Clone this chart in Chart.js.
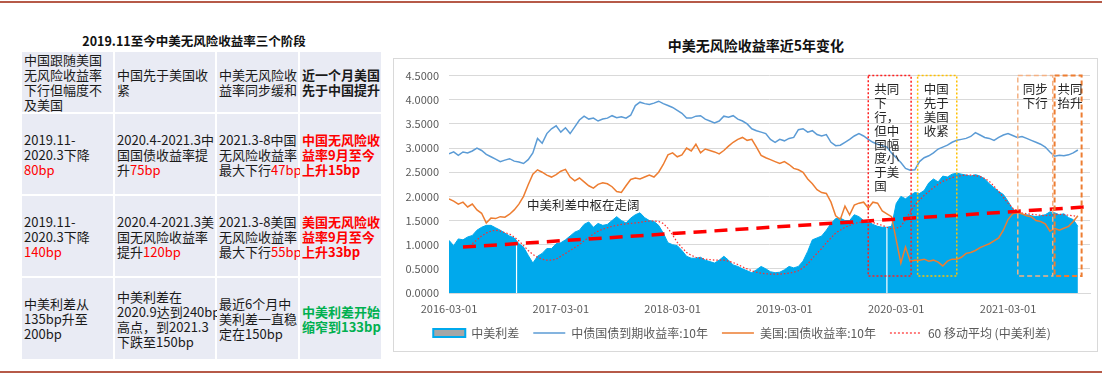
<!DOCTYPE html>
<html lang="zh-CN">
<head>
<meta charset="utf-8">
<title>中美无风险收益率近5年变化</title>
<script src="https://cdn.jsdelivr.net/npm/chart.js@4.4.1/dist/chart.umd.min.js"></script>
<style>
  html, body { margin: 0; padding: 0; background: #fff; }
  body { width: 1102px; height: 381px; position: relative; overflow: hidden;
         font-family: "Noto Sans CJK SC", "Noto Sans", sans-serif; }
  .rule { position: absolute; left: 0; width: 1102px; height: 2px; background: #b65a48; }
  .tbl-title { position: absolute; left: 22px; top: 33px; width: 344px; text-align: center;
               font-weight: bold; font-size: 12.5px; line-height: 16px; color: #111; }
  .tbl { position: absolute; left: 22px; top: 52px; display: grid;
         grid-template-columns: 91px 100px 81px 81px;
         grid-template-rows: 60px 80px 80px 81px; gap: 2px; }
  .tbl > div { background: #e9ebf4; display: flex; align-items: center; padding-left: 2px;
               font-size: 13px; line-height: 15px; color: #1a1a1a; white-space: nowrap; }
  .red { color: #ff0000; }
  .b { font-weight: bold; }
  .green { color: #00b050; font-weight: bold; }
  .chart-title { position: absolute; left: 606px; top: 36px; width: 300px; text-align: center;
                 font-weight: bold; font-size: 14px; line-height: 18px; color: #111; }
  .chart-box { position: absolute; left: 393px; top: 58px; width: 705px; height: 294px;
               border: 1px solid #d9d9d9; box-sizing: border-box; }
</style>
</head>
<body>
<div class="rule" style="top:1px"></div>

<div class="tbl-title">2019.11至今中美无风险收益率三个阶段</div>
<div class="tbl">
  <div><span>中国跟随美国<br>无风险收益率<br>下行但幅度不<br>及美国</span></div>
  <div><span>中国先于美国收<br>紧</span></div>
  <div><span>中美无风险收<br>益率同步缓和</span></div>
  <div><span class="b">近一个月美国<br>先于中国提升</span></div>

  <div><span>2019.11-<br>2020.3下降<br><span class="red">80bp</span></span></div>
  <div><span>2020.4-2021.3中<br>国国债收益率提<br>升<span class="red">75bp</span></span></div>
  <div><span>2021.3-8中国<br>无风险收益率<br>最大下行<span class="red">47bp</span></span></div>
  <div><span class="red b">中国无风险收<br>益率9月至今<br>上升15bp</span></div>

  <div><span>2019.11-<br>2020.3下降<br><span class="red">140bp</span></span></div>
  <div><span>2020.4-2021.3美<br>国无风险收益率<br>提升<span class="red">120bp</span></span></div>
  <div><span>2021.3-8美国<br>无风险收益率<br>最大下行<span class="red">55bp</span></span></div>
  <div><span class="red b">美国无风险收<br>益率9月至今<br>上升33bp</span></div>

  <div><span>中美利差从<br>135bp升至<br>200bp</span></div>
  <div><span>中美利差在<br>2020.9达到240bp<br>高点，到2021.3<br>下跌至150bp</span></div>
  <div><span>最近6个月中<br>美利差一直稳<br>定在150bp</span></div>
  <div><span class="green">中美利差开始<br>缩窄到133bp</span></div>
</div>

<div class="chart-title">中美无风险收益率近5年变化</div>
<div class="chart-box"><canvas id="yieldChart"></canvas></div>

<div class="rule" style="top:371px"></div>

<script>
// 横轴：自 2016-03-01 起的月数，数据每半个月取一个点
const xTickLabels = ['2016-03-01', '2017-03-01', '2018-03-01', '2019-03-01', '2020-03-01', '2021-03-01'];

// 中美利差（面积）
const spread = [
  1.09, 0.98, 1.12, 1.10, 1.16, 1.19, 1.30, 1.36, 1.40, 1.40,
  1.35, 1.30, 1.24, 1.18, 1.14, 1.02, 0.95, 0.78, 0.62, 0.76,
  0.82, 0.92, 0.92, 1.02, 1.04, 1.10, 1.18, 1.26, 1.30, 1.42,
  1.47, 1.36, 1.44, 1.40, 1.42, 1.50, 1.58, 1.50, 1.45, 1.55,
  1.62, 1.66, 1.56, 1.50, 1.48, 1.40, 1.24, 1.04, 1.00, 0.98,
  0.88, 0.76, 0.72, 0.72, 0.74, 0.68, 0.65, 0.62, 0.68, 0.76,
  0.68, 0.58, 0.55, 0.50, 0.46, 0.42, 0.48, 0.55, 0.50, 0.44,
  0.42, 0.43, 0.48, 0.55, 0.52, 0.55, 0.66, 0.86, 1.10, 1.14,
  1.18, 1.30, 1.44, 1.54, 1.55, 1.50, 1.50, 1.62, 1.58, 1.50,
  1.48, 1.42, 1.38, 1.36, 1.36, 1.38, 1.85, 2.00, 1.95, 2.02,
  2.08, 2.06, 2.12, 2.28, 2.36, 2.30, 2.42, 2.40, 2.46, 2.48,
  2.46, 2.44, 2.42, 2.45, 2.42, 2.36, 2.26, 2.18, 2.10, 2.04,
  1.90, 1.74, 1.66, 1.63, 1.62, 1.60, 1.58, 1.60, 1.62, 1.68,
  1.66, 1.62, 1.64, 1.56, 1.52, 1.38
];

// 中债国债到期收益率:10年
const cnYield = [
  2.88, 2.92, 2.85, 2.92, 2.90, 2.94, 3.00, 2.95, 2.87, 2.82,
  2.77, 2.72, 2.75, 2.78, 2.73, 2.71, 2.68, 2.76, 2.90, 3.20,
  3.10, 3.30, 3.40, 3.46, 3.33, 3.42, 3.30, 3.44, 3.58, 3.66,
  3.60, 3.62, 3.56, 3.60, 3.62, 3.67, 3.63, 3.65, 3.62, 3.68,
  3.88, 3.95, 3.92, 3.90, 3.93, 3.97, 3.92, 3.88, 3.84, 3.78,
  3.72, 3.62, 3.62, 3.66, 3.67, 3.60, 3.56, 3.52, 3.56, 3.66,
  3.64, 3.67, 3.60, 3.56, 3.50, 3.40, 3.36, 3.33, 3.30, 3.18,
  3.12, 3.18, 3.15, 3.20, 3.22, 3.38, 3.40, 3.33, 3.36, 3.28,
  3.25, 3.28, 3.12, 3.05, 3.06, 3.12, 3.18, 3.25, 3.30, 3.25,
  3.18, 3.12, 3.08, 3.05, 3.02, 2.90, 2.80, 2.70, 2.58, 2.54,
  2.55, 2.72, 2.80, 2.84, 2.90, 2.98, 3.02, 3.06, 3.12, 3.16,
  3.18, 3.20, 3.24, 3.32, 3.27, 3.22, 3.20, 3.16, 3.22, 3.27,
  3.30, 3.26, 3.22, 3.24, 3.20, 3.16, 3.12, 3.08, 3.02, 2.92,
  2.83, 2.85, 2.84, 2.86, 2.90, 2.96
];

// 美国:国债收益率:10年
const usYield = [
  1.95, 1.90, 1.84, 1.88, 1.78, 1.84, 1.72, 1.65, 1.45, 1.55,
  1.54, 1.58, 1.57, 1.63, 1.72, 1.84, 2.00, 2.24, 2.46, 2.55,
  2.50, 2.44, 2.40, 2.45, 2.52, 2.56, 2.40, 2.32, 2.38, 2.30,
  2.22, 2.17, 2.25, 2.28, 2.26, 2.20, 2.10, 2.08, 2.22, 2.35,
  2.38, 2.36, 2.40, 2.44, 2.40, 2.50, 2.66, 2.86, 2.90, 2.82,
  2.86, 3.00, 2.94, 3.08, 2.90, 2.98, 2.95, 2.92, 2.88, 2.95,
  3.04, 3.12, 3.18, 3.22, 3.16, 3.18, 3.02, 2.85, 2.80, 2.76,
  2.72, 2.68, 2.72, 2.66, 2.58, 2.55, 2.50, 2.36, 2.26, 2.14,
  2.08, 2.06, 1.88, 1.60, 1.52, 1.80, 1.62, 1.82, 1.86, 1.88,
  1.76, 1.88, 1.86, 1.70, 1.64, 1.58, 1.10, 0.62, 0.95, 0.66,
  0.68, 0.68, 0.70, 0.66, 0.68, 0.64, 0.56, 0.66, 0.70, 0.70,
  0.74, 0.82, 0.84, 0.88, 0.94, 0.98, 1.02, 1.08, 1.14, 1.30,
  1.52, 1.64, 1.66, 1.64, 1.60, 1.58, 1.50, 1.48, 1.43, 1.28,
  1.34, 1.30, 1.34, 1.38, 1.48, 1.60
];

// 60 移动平均 (中美利差)，前几期不足 60 日
const spreadMA60 = [
  null, null, null, null, null, 1.02, 1.10, 1.18, 1.24, 1.28,
  1.30, 1.28, 1.25, 1.22, 1.16, 1.08, 0.98, 0.88, 0.80, 0.74,
  0.70, 0.68, 0.68, 0.70, 0.76, 0.82, 0.88, 0.94, 1.00, 1.08,
  1.15, 1.22, 1.28, 1.32, 1.35, 1.38, 1.40, 1.42, 1.43, 1.44,
  1.45, 1.46, 1.48, 1.49, 1.49, 1.48, 1.44, 1.34, 1.20, 1.05,
  0.94, 0.84, 0.78, 0.74, 0.72, 0.70, 0.69, 0.68, 0.68, 0.68,
  0.66, 0.63, 0.59, 0.54, 0.50, 0.46, 0.43, 0.41, 0.40, 0.39,
  0.39, 0.39, 0.40, 0.41, 0.43, 0.46, 0.52, 0.60, 0.72, 0.82,
  0.92, 1.04, 1.14, 1.24, 1.30, 1.36, 1.40, 1.44, 1.46, 1.47,
  1.47, 1.46, 1.43, 1.40, 1.36, 1.33, 1.34, 1.38, 1.52, 1.68,
  1.82, 1.92, 2.02, 2.10, 2.18, 2.25, 2.31, 2.35, 2.39, 2.41,
  2.43, 2.44, 2.44, 2.43, 2.41, 2.37, 2.31, 2.21, 2.10, 1.98,
  1.86, 1.76, 1.69, 1.66, 1.64, 1.63, 1.62, 1.61, 1.60, 1.61,
  1.62, 1.63, 1.62, 1.61, 1.60, 1.58
];

// 利差中枢趋势线（两端点）
const trendMonths = [1.5, 68.2];
const trendValues = [0.95, 1.78];

// 利差序列中缺值的日期（节假日），画成白色细缝
const spreadGapMonths = [7.25, 47.0];

// 阶段标注框：起止月数与框内文字
const phaseBoxBottom = 0.35;
const phaseBoxes = [
  { from: 45.0, to: 49.6, lines: ['共同', '下', '行，', '但中', '国幅', '度小', '于美', '国'], color: '#ff2020', dash: [2, 2], width: 1.5, pad: 6 },
  { from: 50.3, to: 54.5, lines: ['中国', '先于', '美国', '收紧'], color: '#ffc000', dash: [2, 2], width: 1.5, pad: 6 },
  { from: 61.05, to: 64.8, lines: ['同步', '下行'], color: '#f4b183', dash: [5, 3], width: 1.5, pad: 5 },
  { from: 65.0, to: 67.9, lines: ['共同', '抬升'], color: '#ed7d31', dash: [5, 3], width: 2, pad: 3 }
];

const months = spread.map((_, i) => i / 2);

function toPoints(values) {
  return values
    .map((v, i) => ({ x: months[i], y: v }))
    .filter(p => p.y !== null);
}

Chart.defaults.font.family = '"Noto Sans CJK SC", "Noto Sans", sans-serif';

// 利差缺值处的白色细缝
const gapLines = {
  id: 'gapLines',
  afterDatasetDraw(chart, args) {
    if (args.index !== 0) return;
    const { ctx, scales: { x, y } } = chart;
    ctx.save();
    ctx.strokeStyle = '#ffffff';
    ctx.lineWidth = 1.2;
    spreadGapMonths.forEach(m => {
      const px = x.getPixelForValue(m);
      ctx.beginPath();
      ctx.moveTo(px, y.getPixelForValue(0));
      ctx.lineTo(px, y.getPixelForValue(spread[Math.round(m * 2)]));
      ctx.stroke();
    });
    ctx.restore();
  }
};

// 阶段框与文字说明
const phaseNotes = {
  id: 'phaseNotes',
  afterDatasetsDraw(chart) {
    const { ctx, scales: { x, y } } = chart;
    ctx.save();
    phaseBoxes.forEach(b => {
      const l = x.getPixelForValue(b.from);
      const r = x.getPixelForValue(b.to);
      const t = y.getPixelForValue(y.max);
      const btm = y.getPixelForValue(phaseBoxBottom);
      ctx.setLineDash(b.dash);
      ctx.lineWidth = b.width;
      ctx.strokeStyle = b.color;
      ctx.strokeRect(l, t, r - l, btm - t);
      ctx.setLineDash([]);
      ctx.fillStyle = '#262626';
      ctx.font = '12.5px "Noto Sans CJK SC"';
      ctx.textAlign = 'left';
      ctx.textBaseline = 'middle';
      b.lines.forEach((s, k) => ctx.fillText(s, l + b.pad, t + 14 + k * 13.8));
    });
    ctx.fillStyle = '#262626';
    ctx.font = '12.5px "Noto Sans CJK SC"';
    ctx.textAlign = 'center';
    ctx.textBaseline = 'middle';
    ctx.fillText('中美利差中枢在走阔', x.getPixelForValue(14.4), y.getPixelForValue(1.82));
    ctx.restore();
  }
};

const legendOrder = [0, 1, 2, 3];

new Chart(document.getElementById('yieldChart'), {
  type: 'line',
  data: {
    datasets: [
      {
        label: '中美利差',
        data: toPoints(spread),
        fill: 'origin',
        backgroundColor: '#00a9ec',
        borderColor: '#00a9ec',
        borderWidth: 1,
        pointRadius: 0,
        order: 5,
        swatch: { pointStyle: 'rect', fillStyle: '#a6a6a6', strokeStyle: '#00a9ec', lineWidth: 2 }
      },
      {
        label: '中债国债到期收益率:10年',
        data: toPoints(cnYield),
        borderColor: '#5b9bd5',
        borderWidth: 1.5,
        pointRadius: 0,
        order: 3,
        swatch: { pointStyle: 'line', strokeStyle: '#5b9bd5', lineWidth: 1.5 }
      },
      {
        label: '美国:国债收益率:10年',
        data: toPoints(usYield),
        borderColor: '#ed7d31',
        borderWidth: 1.5,
        pointRadius: 0,
        order: 2,
        swatch: { pointStyle: 'line', strokeStyle: '#ed7d31', lineWidth: 1.5 }
      },
      {
        label: '60 移动平均 (中美利差)',
        data: toPoints(spreadMA60),
        borderColor: '#ff2a2a',
        borderWidth: 1.2,
        borderDash: [1.5, 2],
        pointRadius: 0,
        order: 4,
        swatch: { pointStyle: 'line', strokeStyle: '#ff2a2a', lineWidth: 1.2, lineDash: [2, 2] }
      },
      {
        label: '趋势',
        data: trendMonths.map((m, i) => ({ x: m, y: trendValues[i] })),
        borderColor: '#ff0000',
        borderWidth: 3.5,
        borderDash: [13, 8],
        pointRadius: 0,
        order: 1
      }
    ]
  },
  options: {
    responsive: true,
    maintainAspectRatio: false,
    animation: false,
    devicePixelRatio: 1,
    layout: { padding: { top: 13, right: 7, bottom: 2, left: 0 } },
    plugins: {
      tooltip: { enabled: false },
      legend: {
        position: 'bottom',
        labels: {
          usePointStyle: true,
          pointStyleWidth: 32,
          boxHeight: 8,
          padding: 14,
          color: '#595959',
          font: { size: 12 },
          generateLabels: chart => legendOrder.map(i => {
            const ds = chart.data.datasets[i];
            return Object.assign({
              text: ds.label,
              datasetIndex: i,
              hidden: false,
              fontColor: '#595959',
              fillStyle: 'rgba(0,0,0,0)',
              lineDash: []
            }, ds.swatch);
          })
        }
      }
    },
    scales: {
      x: {
        type: 'linear',
        min: 0,
        max: 68.8,
        grid: { display: false, drawTicks: false },
        border: { display: true, color: '#d9d9d9' },
        ticks: {
          stepSize: 12,
          includeBounds: false,
          autoSkip: false,
          maxRotation: 0,
          padding: 9,
          color: '#595959',
          font: { size: 11 },
          callback: v => xTickLabels[v / 12] ?? ''
        },
        afterFit: s => { s.height = 20; }
      },
      y: {
        min: 0,
        max: 4.5,
        grid: { color: '#d9d9d9', drawTicks: false },
        border: { display: false },
        ticks: {
          stepSize: 0.5,
          padding: 10,
          color: '#595959',
          font: { size: 11 },
          callback: v => v.toFixed(4)
        },
        afterFit: s => { s.width = 55; }
      }
    }
  },
  plugins: [gapLines, phaseNotes]
});
</script>
</body>
</html>
